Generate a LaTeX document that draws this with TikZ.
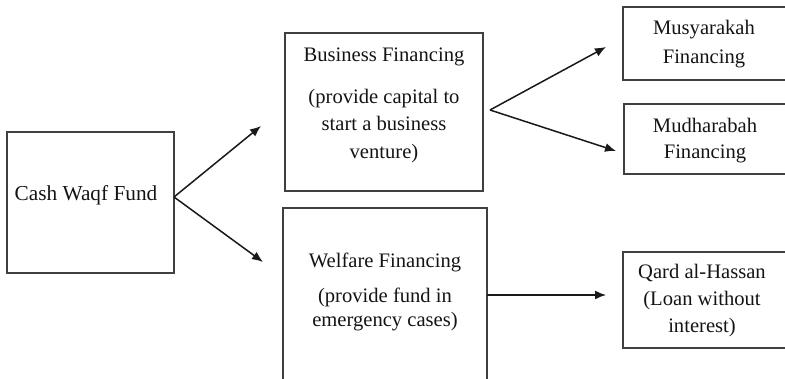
\documentclass[tikz,border=0pt]{standalone}
\usepackage{fontspec}
\setmainfont{Liberation Serif}
\usetikzlibrary{arrows.meta}
\begin{document}
\begin{tikzpicture}[x=1pt,y=-1pt,
  box/.style={draw=black!75, line width=1.4pt, rectangle, inner sep=0pt, outer sep=0pt},
  txt/.style={text=black!92, align=center, inner sep=0pt,
    font=\fontsize{20.6}{27}\selectfont},
  arr/.style={draw=black!90, line width=1.5pt, -{Latex[length=11pt,width=9pt]}}]
  \useasboundingbox (0,0) rectangle (785,379);
  \clip (0,0) rectangle (785,379);

  % boxes (those on the right and the bottom run past the page edge)
  \node[box, minimum width=167pt, minimum height=141pt] (cash) at (90.5,202.5) {};
  \node[box, minimum width=198pt, minimum height=158pt] (biz)  at (384,112) {};
  \node[box, minimum width=204pt, minimum height=212pt] (welf) at (385,314) {};
  \node[box, minimum width=177pt, minimum height=73pt]  (musy) at (711.5,43.5) {};
  \node[box, minimum width=176pt, minimum height=70pt]  (mudh) at (712,139) {};
  \node[box, minimum width=177pt, minimum height=96pt]  (qard) at (711.5,300) {};

  % texts
  \node[txt, font=\fontsize{21.3}{27}\selectfont] (cashtxt) at (86,195) {Cash Waqf Fund};
  \node[txt] (biztitle) at (384,57) {Business Financing};
  \node[txt, font=\fontsize{20.6}{27.5}\selectfont] (bizbody) at (384,126)
    {(provide capital to\\start a business\\venture)};
  \node[txt] (welftitle) at (385,262) {Welfare Financing};
  \node[txt, font=\fontsize{20.6}{24}\selectfont] (welfbody) at (385,309)
    {(provide fund in\\emergency cases)};
  \node[txt, font=\fontsize{20.6}{29}\selectfont] (musytxt) at (704,44)
    {Musyarakah\\Financing};
  \node[txt, font=\fontsize{20.6}{26}\selectfont] (mudhtxt) at (705,141)
    {Mudharabah\\Financing};
  \node[txt, font=\fontsize{20.6}{27}\selectfont] (qardtxt) at (702,301)
    {Qard al-Hassan\\(Loan without\\interest)};

  % arrow tips
  \coordinate (tipbiz)  at (261,126);
  \coordinate (tipwelf) at (263,262);
  \coordinate (tipmusy) at (606,47);
  \coordinate (tipmudh) at (616,151);
  \coordinate (tipqard) at (606,295);

  % connectors
  \draw[arr] ([yshift=5.5pt]cash.east) -- (tipbiz);
  \draw[arr] ([yshift=5.5pt]cash.east) -- (tipwelf);
  \draw[arr] ([xshift=7pt,yshift=2pt]biz.east) -- (tipmusy);
  \draw[arr] ([xshift=7pt,yshift=2pt]biz.east) -- (tipmudh);
  \draw[arr] (welf.east |- tipqard) -- (tipqard);
\end{tikzpicture}
\end{document}
